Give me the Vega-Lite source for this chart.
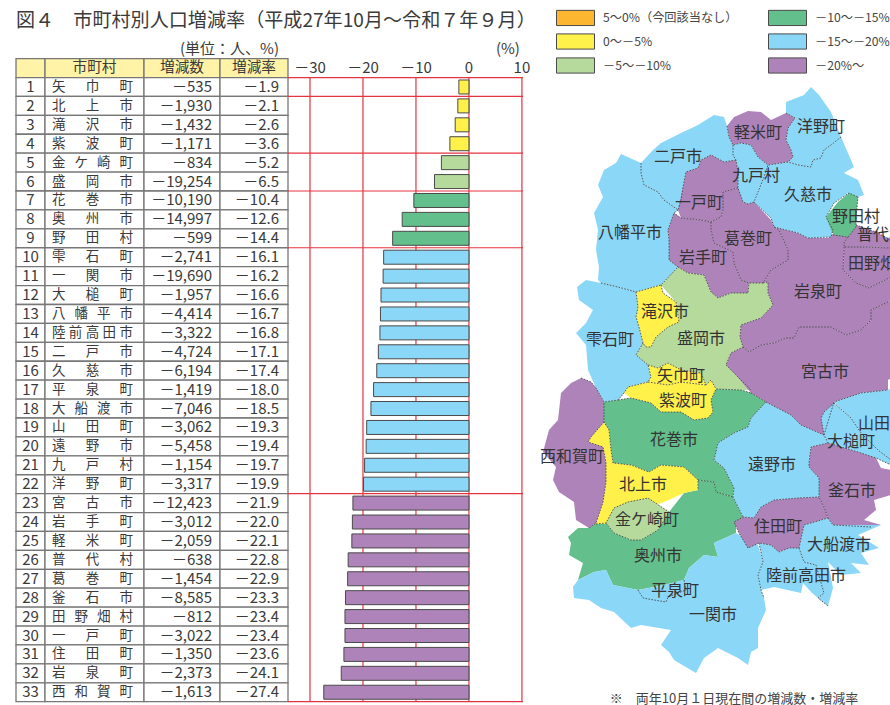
{"$schema":"https://vega.github.io/schema/vega-lite/v6.json","background":"white","padding":{"left":15,"top":0,"right":0,"bottom":0},"spacing":0,"bounds":"flush","config":{"view":{"stroke":null},"font":"Noto Sans CJK JP","text":{"font":"Noto Sans CJK JP","color":"#3a3a3a"},"locale":{"number":{"decimal":".","thousands":",","grouping":[3],"currency":["",""],"minus":"－"}}},
"datasets":{"rows":[
{"r":1,"name":"矢\u2003\u2002巾\u2003\u2002町","n":-535,"rate":-1.9,"c":"0～－5%"},
{"r":2,"name":"北\u2003\u2002上\u2003\u2002市","n":-1930,"rate":-2.1,"c":"0～－5%"},
{"r":3,"name":"滝\u2003\u2002沢\u2003\u2002市","n":-1432,"rate":-2.6,"c":"0～－5%"},
{"r":4,"name":"紫\u2003\u2002波\u2003\u2002町","n":-1171,"rate":-3.6,"c":"0～－5%"},
{"r":5,"name":"金\u2002\u2006ケ\u2002\u2006崎\u2002\u2006町","n":-834,"rate":-5.2,"c":"－5～－10%"},
{"r":6,"name":"盛\u2003\u2002岡\u2003\u2002市","n":-19254,"rate":-6.5,"c":"－5～－10%"},
{"r":7,"name":"花\u2003\u2002巻\u2003\u2002市","n":-10190,"rate":-10.4,"c":"－10～－15%"},
{"r":8,"name":"奥\u2003\u2002州\u2003\u2002市","n":-14997,"rate":-12.6,"c":"－10～－15%"},
{"r":9,"name":"野\u2003\u2002田\u2003\u2002村","n":-599,"rate":-14.4,"c":"－10～－15%"},
{"r":10,"name":"雫\u2003\u2002石\u2003\u2002町","n":-2741,"rate":-16.1,"c":"－15～－20%"},
{"r":11,"name":"一\u2003\u2002関\u2003\u2002市","n":-19690,"rate":-16.2,"c":"－15～－20%"},
{"r":12,"name":"大\u2003\u2002槌\u2003\u2002町","n":-1957,"rate":-16.6,"c":"－15～－20%"},
{"r":13,"name":"八\u2002\u2006幡\u2002\u2006平\u2002\u2006市","n":-4414,"rate":-16.7,"c":"－15～－20%"},
{"r":14,"name":"陸\u2005前\u2005高\u2005田\u2005市","n":-3322,"rate":-16.8,"c":"－15～－20%"},
{"r":15,"name":"二\u2003\u2002戸\u2003\u2002市","n":-4724,"rate":-17.1,"c":"－15～－20%"},
{"r":16,"name":"久\u2003\u2002慈\u2003\u2002市","n":-6194,"rate":-17.4,"c":"－15～－20%"},
{"r":17,"name":"平\u2003\u2002泉\u2003\u2002町","n":-1419,"rate":-18.0,"c":"－15～－20%"},
{"r":18,"name":"大\u2002\u2006船\u2002\u2006渡\u2002\u2006市","n":-7046,"rate":-18.5,"c":"－15～－20%"},
{"r":19,"name":"山\u2003\u2002田\u2003\u2002町","n":-3062,"rate":-19.3,"c":"－15～－20%"},
{"r":20,"name":"遠\u2003\u2002野\u2003\u2002市","n":-5458,"rate":-19.4,"c":"－15～－20%"},
{"r":21,"name":"九\u2003\u2002戸\u2003\u2002村","n":-1154,"rate":-19.7,"c":"－15～－20%"},
{"r":22,"name":"洋\u2003\u2002野\u2003\u2002町","n":-3317,"rate":-19.9,"c":"－15～－20%"},
{"r":23,"name":"宮\u2003\u2002古\u2003\u2002市","n":-12423,"rate":-21.9,"c":"－20%～"},
{"r":24,"name":"岩\u2003\u2002手\u2003\u2002町","n":-3012,"rate":-22.0,"c":"－20%～"},
{"r":25,"name":"軽\u2003\u2002米\u2003\u2002町","n":-2059,"rate":-22.1,"c":"－20%～"},
{"r":26,"name":"普\u2003\u2002代\u2003\u2002村","n":-638,"rate":-22.8,"c":"－20%～"},
{"r":27,"name":"葛\u2003\u2002巻\u2003\u2002町","n":-1454,"rate":-22.9,"c":"－20%～"},
{"r":28,"name":"釜\u2003\u2002石\u2003\u2002市","n":-8585,"rate":-23.3,"c":"－20%～"},
{"r":29,"name":"田\u2002\u2006野\u2002\u2006畑\u2002\u2006村","n":-812,"rate":-23.4,"c":"－20%～"},
{"r":30,"name":"一\u2003\u2002戸\u2003\u2002町","n":-3022,"rate":-23.4,"c":"－20%～"},
{"r":31,"name":"住\u2003\u2002田\u2003\u2002町","n":-1350,"rate":-23.6,"c":"－20%～"},
{"r":32,"name":"岩\u2003\u2002泉\u2003\u2002町","n":-2373,"rate":-24.1,"c":"－20%～"},
{"r":33,"name":"西\u2002\u2006和\u2002\u2006賀\u2002\u2006町","n":-1613,"rate":-27.4,"c":"－20%～"}],
"head":[{"r":"header"}],"unit":[{"r":"unit"}],
"ticks":[{"v":-30,"t":"－30"},{"v":-20,"t":"－20"},{"v":-10,"t":"－10"},{"v":0,"t":"0"},{"v":10,"t":"10"}],
"lines":[{"r":"header"},{"r":1},{"r":4},{"r":6},{"r":9},{"r":22},{"r":33}]},
"hconcat":[
{"width":29,"height":705,"layer":[
{"data":{"name":"head"},"mark":{"type":"rect","fill":"#FFF3A8","stroke":"#777","strokeWidth":1.3},"encoding":{"y":{"field":"r","type":"ordinal","axis":null,"scale":{"domain":["unit","header",1,2,3,4,5,6,7,8,9,10,11,12,13,14,15,16,17,18,19,20,21,22,23,24,25,26,27,28,29,30,31,32,33],"range":[39.7,701.7],"paddingInner":0,"paddingOuter":0}}}},
{"data":{"name":"rows"},"mark":{"type":"rect","fill":"white","stroke":"#777","strokeWidth":1.3},"encoding":{"y":{"field":"r","type":"ordinal","axis":null}}},
{"data":{"name":"rows"},"mark":{"type":"text","fontSize":15,"baseline":"middle"},"encoding":{"y":{"field":"r","type":"ordinal","axis":null},"text":{"field":"r","type":"nominal"}}},
{"data":{"name":"head"},"mark":{"type":"text","fontSize":19.1,"align":"left","baseline":"middle","dy":-47,"text":"図４　市町村別人口増減率（平成27年10月～令和７年９月）"},"encoding":{"y":{"field":"r","type":"ordinal","axis":null},"x":{"datum":0,"type":"quantitative","axis":null,"scale":{"domain":[0,1]}}}}
]},
{"width":99,"height":705,"layer":[
{"data":{"name":"head"},"mark":{"type":"rect","fill":"#FFF3A8","stroke":"#777","strokeWidth":1.3},"encoding":{"y":{"field":"r","type":"ordinal","axis":null,"scale":{"domain":["unit","header",1,2,3,4,5,6,7,8,9,10,11,12,13,14,15,16,17,18,19,20,21,22,23,24,25,26,27,28,29,30,31,32,33],"range":[39.7,701.7],"paddingInner":0,"paddingOuter":0}}}},
{"data":{"name":"rows"},"mark":{"type":"rect","fill":"white","stroke":"#777","strokeWidth":1.3},"encoding":{"y":{"field":"r","type":"ordinal","axis":null}}},
{"data":{"name":"head"},"mark":{"type":"text","fontSize":14.7,"baseline":"middle","text":"市町村"},"encoding":{"y":{"field":"r","type":"ordinal","axis":null}}},
{"data":{"name":"rows"},"mark":{"type":"text","fontSize":13.5,"align":"left","baseline":"middle","dx":7},"encoding":{"y":{"field":"r","type":"ordinal","axis":null},"x":{"datum":0,"type":"quantitative","axis":null,"scale":{"domain":[0,1]}},"text":{"field":"name","type":"nominal"}}}
]},
{"width":76,"height":705,"layer":[
{"data":{"name":"head"},"mark":{"type":"rect","fill":"#FFF3A8","stroke":"#777","strokeWidth":1.3},"encoding":{"y":{"field":"r","type":"ordinal","axis":null,"scale":{"domain":["unit","header",1,2,3,4,5,6,7,8,9,10,11,12,13,14,15,16,17,18,19,20,21,22,23,24,25,26,27,28,29,30,31,32,33],"range":[39.7,701.7],"paddingInner":0,"paddingOuter":0}}}},
{"data":{"name":"rows"},"mark":{"type":"rect","fill":"white","stroke":"#777","strokeWidth":1.3},"encoding":{"y":{"field":"r","type":"ordinal","axis":null}}},
{"data":{"name":"head"},"mark":{"type":"text","fontSize":14.7,"baseline":"middle","text":"増減数"},"encoding":{"y":{"field":"r","type":"ordinal","axis":null}}},
{"data":{"name":"rows"},"mark":{"type":"text","fontSize":15,"align":"right","baseline":"middle","dx":-8},"encoding":{"y":{"field":"r","type":"ordinal","axis":null},"x":{"datum":1,"type":"quantitative","axis":null,"scale":{"domain":[0,1]}},"text":{"field":"n","type":"quantitative","format":","}}}
]},
{"width":68,"height":705,"layer":[
{"data":{"name":"head"},"mark":{"type":"rect","fill":"#FFF3A8","stroke":"#777","strokeWidth":1.3},"encoding":{"y":{"field":"r","type":"ordinal","axis":null,"scale":{"domain":["unit","header",1,2,3,4,5,6,7,8,9,10,11,12,13,14,15,16,17,18,19,20,21,22,23,24,25,26,27,28,29,30,31,32,33],"range":[39.7,701.7],"paddingInner":0,"paddingOuter":0}}}},
{"data":{"name":"rows"},"mark":{"type":"rect","fill":"white","stroke":"#777","strokeWidth":1.3},"encoding":{"y":{"field":"r","type":"ordinal","axis":null}}},
{"data":{"name":"head"},"mark":{"type":"text","fontSize":14.7,"baseline":"middle","text":"増減率"},"encoding":{"y":{"field":"r","type":"ordinal","axis":null}}},
{"data":{"name":"rows"},"mark":{"type":"text","fontSize":15,"align":"right","baseline":"middle","dx":-9},"encoding":{"y":{"field":"r","type":"ordinal","axis":null},"x":{"datum":1,"type":"quantitative","axis":null,"scale":{"domain":[0,1]}},"text":{"field":"rate","type":"quantitative","format":".1f"}}},
{"data":{"name":"unit"},"mark":{"type":"text","fontSize":15,"align":"right","baseline":"middle","dx":-9,"text":"(単位：人、%)"},"encoding":{"y":{"field":"r","type":"ordinal","axis":null},"x":{"datum":1,"type":"quantitative","axis":null,"scale":{"domain":[0,1]}}}}
]},
{"width":235,"height":705,"resolve":{"scale":{"y":"independent"}},"layer":[
{"data":{"name":"ticks"},"mark":{"type":"rule","color":"#E5333F","strokeWidth":1.2},"encoding":{"x":{"field":"v","type":"quantitative","axis":null,"scale":{"domain":[-34.15,10.2],"nice":false,"zero":false}},"y":{"datum":0,"type":"quantitative","axis":null,"scale":{"domain":[0,1],"range":[77.5,701.7]}},"y2":{"datum":1}}},
{"layer":[
{"data":{"name":"lines"},"mark":{"type":"rule","color":"#E5333F","strokeWidth":1.2},"encoding":{"y":{"field":"r","type":"ordinal","bandPosition":1,"axis":null,"scale":{"domain":["unit","header",1,2,3,4,5,6,7,8,9,10,11,12,13,14,15,16,17,18,19,20,21,22,23,24,25,26,27,28,29,30,31,32,33],"range":[39.7,701.7],"paddingInner":0,"paddingOuter":0}}}},
{"data":{"name":"rows"},"mark":{"type":"bar","height":{"band":0.74},"stroke":"#4a4a4a","strokeWidth":1},"encoding":{"y":{"field":"r","type":"ordinal","axis":null},"x":{"field":"rate","type":"quantitative"},"color":{"field":"c","type":"nominal"}}},
{"data":{"name":"ticks"},"mark":{"type":"text","fontSize":15,"baseline":"middle"},"encoding":{"y":{"datum":"header","type":"ordinal"},"x":{"field":"v","type":"quantitative"},"text":{"field":"t","type":"nominal"}}},
{"data":{"name":"unit"},"mark":{"type":"text","fontSize":15,"align":"right","baseline":"middle","dx":-2,"text":"(%)"},"encoding":{"y":{"field":"r","type":"ordinal"},"x":{"datum":10,"type":"quantitative"}}}
]}
]},
{"width":368,"height":705,"projection":{"type":"identity","scale":1,"translate":[-522,0]},"layer":[
{"data":{"values":{"type":"FeatureCollection","features":[
{"type":"Feature","properties":{"c":"－15～－20%"},"geometry":{"type":"Polygon","coordinates":[[[785,113],[785,102],[803,95],[810,87],[818,95],[830,112],[840,137],[830,145],[823,150],[820,158],[812,160],[810,167],[797,165],[787,162],[792,157],[790,150],[785,140],[787,128],[794,118],[785,113]]]}},
{"type":"Feature","properties":{"c":"－20%～"},"geometry":{"type":"Polygon","coordinates":[[[726,126],[733,117],[747,111],[760,112],[770,120],[785,113],[794,118],[787,128],[785,140],[790,150],[792,157],[787,162],[767,165],[757,157],[750,145],[740,143],[732,145],[728,137],[726,126]]]}},
{"type":"Feature","properties":{"c":"－15～－20%"},"geometry":{"type":"Polygon","coordinates":[[[732,145],[740,143],[750,145],[757,157],[767,165],[763,177],[757,192],[753,202],[747,204],[742,202],[737,192],[737,173],[735,160],[732,155],[732,145]]]}},
{"type":"Feature","properties":{"c":"－15～－20%"},"geometry":{"type":"Polygon","coordinates":[[[640,163],[652,150],[660,143],[680,133],[697,125],[713,115],[723,117],[726,126],[728,137],[732,145],[732,155],[735,160],[723,162],[710,155],[700,160],[697,168],[685,172],[682,187],[680,200],[677,210],[663,200],[657,192],[643,185],[640,173],[640,163]]]}},
{"type":"Feature","properties":{"c":"－15～－20%"},"geometry":{"type":"Polygon","coordinates":[[[640,163],[620,154],[615,163],[603,170],[597,185],[602,197],[593,213],[597,230],[595,250],[598,267],[597,280],[600,283],[617,287],[635,292],[660,285],[677,267],[668,260],[668,240],[667,230],[673,213],[677,210],[663,200],[657,192],[643,185],[640,173],[640,163]]]}},
{"type":"Feature","properties":{"c":"－20%～"},"geometry":{"type":"Polygon","coordinates":[[[677,210],[682,187],[685,172],[697,168],[700,160],[710,155],[723,162],[735,160],[737,173],[737,188],[722,192],[722,210],[720,217],[710,222],[700,220],[680,218],[677,210]]]}},
{"type":"Feature","properties":{"c":"－20%～"},"geometry":{"type":"Polygon","coordinates":[[[722,192],[737,188],[742,202],[747,204],[753,202],[770,220],[773,227],[778,230],[787,250],[787,260],[770,270],[762,283],[748,283],[740,280],[733,263],[732,252],[713,243],[710,230],[710,222],[720,217],[722,210],[722,192]]]}},
{"type":"Feature","properties":{"c":"－20%～"},"geometry":{"type":"Polygon","coordinates":[[[667,230],[668,240],[668,260],[677,267],[687,273],[703,275],[710,292],[717,298],[730,293],[747,293],[748,283],[740,280],[733,263],[732,252],[713,243],[710,230],[710,222],[700,220],[680,218],[673,213],[667,230]]]}},
{"type":"Feature","properties":{"c":"－5～－10%"},"geometry":{"type":"Polygon","coordinates":[[[677,267],[687,273],[703,275],[710,292],[717,298],[730,293],[747,293],[748,283],[762,283],[767,282],[767,293],[772,305],[760,318],[740,325],[739,337],[742,347],[730,353],[725,365],[735,375],[750,390],[740,390],[715,389],[710,380],[705,385],[700,373],[680,370],[667,363],[657,368],[647,365],[635,355],[642,343],[650,347],[655,337],[667,327],[678,322],[675,302],[660,285],[677,267]]]}},
{"type":"Feature","properties":{"c":"0～－5%"},"geometry":{"type":"Polygon","coordinates":[[[635,292],[660,285],[662,293],[675,302],[678,322],[667,327],[655,337],[650,347],[645,347],[642,343],[638,327],[635,317],[637,307],[635,292]]]}},
{"type":"Feature","properties":{"c":"－15～－20%"},"geometry":{"type":"Polygon","coordinates":[[[600,283],[585,280],[576,287],[578,300],[592,310],[585,323],[575,333],[585,345],[587,370],[595,388],[603,402],[617,400],[623,393],[627,387],[647,382],[650,377],[647,365],[635,355],[642,343],[638,327],[635,317],[637,307],[635,292],[617,287],[600,283]]]}},
{"type":"Feature","properties":{"c":"0～－5%"},"geometry":{"type":"Polygon","coordinates":[[[647,365],[657,368],[667,363],[680,370],[700,373],[705,385],[680,382],[667,385],[647,382],[650,377],[647,365]]]}},
{"type":"Feature","properties":{"c":"0～－5%"},"geometry":{"type":"Polygon","coordinates":[[[623,393],[627,387],[647,382],[667,385],[680,382],[705,385],[710,380],[715,389],[710,400],[712,412],[707,418],[693,420],[680,412],[660,412],[650,403],[630,398],[623,393]]]}},
{"type":"Feature","properties":{"c":"－10～－15%"},"geometry":{"type":"Polygon","coordinates":[[[603,402],[617,400],[630,398],[650,403],[660,412],[680,412],[693,420],[707,418],[712,412],[710,400],[715,389],[740,390],[750,393],[765,402],[750,418],[747,427],[733,433],[717,443],[713,460],[723,468],[733,488],[732,497],[715,492],[713,482],[697,480],[683,467],[660,465],[648,472],[630,465],[612,463],[610,450],[608,430],[603,422],[603,402]]]}},
{"type":"Feature","properties":{"c":"－10～－15%"},"geometry":{"type":"Polygon","coordinates":[[[567,537],[577,528],[588,528],[595,523],[605,523],[613,533],[630,540],[640,540],[657,530],[668,512],[683,493],[697,490],[697,480],[713,482],[715,492],[732,497],[742,517],[735,523],[735,533],[713,543],[717,557],[703,555],[688,568],[683,580],[663,585],[637,590],[612,585],[605,570],[593,572],[577,580],[582,563],[568,555],[570,543],[567,537]]]}},
{"type":"Feature","properties":{"c":"0～－5%"},"geometry":{"type":"Polygon","coordinates":[[[603,422],[608,430],[610,450],[612,463],[630,465],[648,472],[660,465],[683,467],[697,480],[697,490],[683,493],[668,500],[655,505],[640,500],[617,510],[605,524],[595,524],[602,502],[605,482],[605,463],[602,447],[587,442],[590,437],[603,422]]]}},
{"type":"Feature","properties":{"c":"－5～－10%"},"geometry":{"type":"Polygon","coordinates":[[[605,523],[613,508],[627,502],[647,498],[668,512],[657,530],[640,540],[630,540],[613,533],[605,523]]]}},
{"type":"Feature","properties":{"c":"－20%～"},"geometry":{"type":"Polygon","coordinates":[[[580,378],[590,382],[595,388],[603,402],[603,422],[590,437],[587,442],[602,447],[605,463],[605,482],[602,502],[595,523],[588,528],[575,520],[573,502],[558,492],[552,480],[555,467],[542,452],[548,430],[557,420],[560,393],[570,383],[580,378]]]}},
{"type":"Feature","properties":{"c":"－15～－20%"},"geometry":{"type":"Polygon","coordinates":[[[577,580],[593,572],[605,570],[612,585],[637,590],[663,585],[683,580],[688,568],[703,555],[717,557],[713,543],[735,533],[742,537],[757,545],[762,562],[757,575],[760,590],[763,598],[765,610],[757,628],[757,648],[750,652],[747,665],[737,658],[717,648],[703,658],[695,673],[673,660],[668,652],[660,645],[670,630],[640,625],[630,628],[613,612],[600,608],[588,600],[573,598],[572,587],[577,580]]]}},
{"type":"Feature","properties":{"c":"－15～－20%"},"geometry":{"type":"Polygon","coordinates":[[[765,402],[790,415],[800,425],[823,435],[827,443],[810,447],[808,463],[808,467],[818,478],[818,497],[797,498],[773,500],[760,507],[753,518],[742,517],[732,497],[733,488],[723,468],[713,460],[717,443],[733,433],[747,427],[750,418],[765,402]]]}},
{"type":"Feature","properties":{"c":"－20%～"},"geometry":{"type":"Polygon","coordinates":[[[725,365],[730,353],[742,347],[748,352],[760,345],[773,343],[785,338],[793,338],[798,327],[813,327],[830,327],[845,335],[860,330],[870,320],[870,310],[887,302],[890,300],[890,378],[887,380],[887,390],[860,393],[833,402],[823,435],[800,425],[790,415],[765,402],[750,393],[735,375],[725,365]]]}},
{"type":"Feature","properties":{"c":"－20%～"},"geometry":{"type":"Polygon","coordinates":[[[767,282],[762,283],[770,270],[787,260],[787,250],[778,230],[773,227],[797,233],[807,238],[827,238],[833,233],[847,237],[843,243],[842,270],[855,283],[868,288],[890,277],[890,300],[887,302],[870,310],[870,320],[860,330],[845,335],[830,327],[813,327],[798,327],[793,338],[785,338],[773,343],[760,345],[748,352],[742,347],[739,337],[740,325],[760,318],[772,305],[767,293],[767,282]]]}},
{"type":"Feature","properties":{"c":"－15～－20%"},"geometry":{"type":"Polygon","coordinates":[[[767,165],[787,162],[797,165],[810,167],[812,160],[820,158],[823,150],[830,145],[840,137],[853,167],[843,173],[857,180],[863,195],[857,197],[847,193],[833,203],[825,217],[832,230],[830,237],[807,238],[797,233],[773,227],[770,218],[753,202],[757,192],[763,177],[767,165]]]}},
{"type":"Feature","properties":{"c":"－20%～"},"geometry":{"type":"Polygon","coordinates":[[[855,225],[875,232],[890,240],[890,248],[860,247],[843,247],[843,243],[847,237],[855,225]]]}},
{"type":"Feature","properties":{"c":"－20%～"},"geometry":{"type":"Polygon","coordinates":[[[843,247],[860,247],[890,248],[890,277],[868,288],[855,283],[842,270],[843,247]]]}},
{"type":"Feature","properties":{"c":"－10～－15%"},"geometry":{"type":"Polygon","coordinates":[[[837,202],[848,193],[857,197],[855,217],[855,227],[847,237],[833,235],[830,230],[825,217],[837,202]]]}},
{"type":"Feature","properties":{"c":"－15～－20%"},"geometry":{"type":"Polygon","coordinates":[[[833,402],[860,393],[887,390],[890,388],[890,460],[877,450],[860,433],[850,418],[833,402]]]}},
{"type":"Feature","properties":{"c":"－15～－20%"},"geometry":{"type":"Polygon","coordinates":[[[833,403],[823,412],[820,418],[823,435],[827,443],[857,452],[875,458],[890,465],[890,460],[877,450],[860,433],[850,418],[833,403]]]}},
{"type":"Feature","properties":{"c":"－20%～"},"geometry":{"type":"Polygon","coordinates":[[[810,447],[827,443],[857,452],[875,458],[880,468],[890,470],[890,495],[873,500],[875,510],[863,520],[880,525],[870,527],[832,525],[827,518],[823,507],[818,497],[818,478],[808,467],[808,463],[810,447]]]}},
{"type":"Feature","properties":{"c":"－15～－20%"},"geometry":{"type":"Polygon","coordinates":[[[827,518],[832,525],[880,525],[857,535],[878,548],[860,553],[868,565],[850,563],[860,573],[840,575],[827,562],[832,588],[827,606],[817,598],[823,593],[815,565],[803,562],[798,548],[803,525],[827,518]]]}},
{"type":"Feature","properties":{"c":"－15～－20%"},"geometry":{"type":"Polygon","coordinates":[[[758,543],[762,562],[757,575],[760,590],[773,587],[800,593],[802,583],[810,592],[817,598],[823,593],[815,565],[803,562],[798,548],[788,548],[778,552],[770,545],[758,543]]]}},
{"type":"Feature","properties":{"c":"－20%～"},"geometry":{"type":"Polygon","coordinates":[[[818,497],[823,507],[827,518],[803,525],[798,548],[788,548],[778,552],[770,545],[758,543],[747,548],[738,533],[733,522],[742,517],[753,518],[760,507],[773,500],[797,498],[818,497]]]}}
]},"format":{"type":"json","property":"features"}},
"mark":{"type":"geoshape","stroke":null,"clip":true},
"encoding":{"color":{"field":"properties.c","type":"nominal","scale":{"domain":["5～0%（今回該当なし）","0～－5%","－5～－10%","－10～－15%","－15～－20%","－20%～"],"range":["#FDB62F","#FFF14A","#B5DA9B","#63BF8B","#8BD7F8","#AE83B9"]},"legend":{"title":null,"orient":"none","legendX":540,"legendY":7,"columns":2,"columnPadding":28,"rowPadding":3,"symbolType":"M-1,-0.76H2.8V0.76H-1Z","symbolSize":400,"symbolOpacity":1,"symbolStrokeColor":"#555","symbolStrokeWidth":1,"labelFont":"Noto Sans CJK JP","labelFontSize":12.2,"labelColor":"#444","labelOffset":26,"labelLimit":200,"symbolLimit":6}}}},
{"data":{"values":{"type":"Feature","properties":{},"geometry":{"type":"MultiLineString","coordinates":[
[[840,137],[830,145],[823,150],[820,158],[812,160],[810,167],[797,165],[787,162]],
[[785,113],[794,118],[787,128],[785,140],[790,150],[792,157],[787,162]],
[[787,162],[767,165],[757,157],[750,145],[740,143],[732,145],[728,137],[726,126]],
[[732,145],[732,155],[735,160],[737,173],[737,188],[742,202],[747,204],[753,202],[757,192],[763,177],[767,165]],
[[735,160],[723,162],[710,155],[700,160],[697,168],[685,172],[682,187],[680,200],[677,210]],
[[640,163],[640,173],[643,185],[657,192],[663,200],[677,210]],
[[677,210],[673,213],[667,230],[668,240],[668,260],[677,267]],
[[737,188],[722,192],[722,210],[720,217],[710,222],[700,220],[680,218],[673,213]],
[[710,222],[710,230],[713,243],[732,252],[733,263],[740,280],[748,283],[762,283],[770,270],[787,260],[787,250],[778,230],[773,227],[770,218],[753,202]],
[[773,227],[797,233],[807,238],[830,237],[832,230],[825,217],[833,203],[848,193],[857,197]],
[[832,235],[847,237],[855,227],[855,217],[857,197]],
[[855,225],[875,232],[890,240]],
[[847,237],[843,243],[843,247],[860,247],[890,248]],
[[843,247],[842,270],[855,283],[868,288],[890,277]],
[[887,302],[870,310],[870,320],[860,330],[845,335],[830,327],[813,327],[798,327],[793,338],[785,338],[773,343],[760,345],[748,352],[742,347]],
[[762,283],[767,282],[767,293],[772,305],[760,318],[740,325],[739,337],[742,347],[730,353],[725,365],[735,375],[750,390]],
[[677,267],[687,273],[703,275],[710,292],[717,298],[730,293],[747,293],[748,283]],
[[600,283],[617,287],[635,292],[660,285],[677,267]],
[[660,285],[662,293],[675,302],[678,322],[667,327],[655,337],[650,347],[645,347],[642,343],[638,327],[635,317],[637,307],[635,292]],
[[642,343],[635,355],[647,365],[650,377],[647,382],[627,387],[623,393],[617,400],[603,402]],
[[647,365],[657,368],[667,363],[680,370],[700,373],[705,385],[710,380],[715,389]],
[[647,382],[667,385],[680,382],[705,385]],
[[617,400],[630,398],[650,403],[660,412],[680,412],[693,420],[707,418],[712,412],[710,400],[715,389],[740,390],[750,393]],
[[750,393],[765,402],[750,418],[747,427],[733,433],[717,443],[713,460],[723,468],[733,488],[732,497],[742,517]],
[[765,402],[790,415],[800,425],[823,435]],
[[823,435],[833,402],[860,393],[887,390]],
[[833,403],[850,418],[860,433],[877,450],[890,460]],
[[833,403],[823,412],[820,418],[823,435],[827,443],[810,447],[808,463],[808,467],[818,478],[818,497],[797,498],[773,500],[760,507],[753,518],[742,517],[733,522],[738,533],[747,548],[758,543],[770,545],[778,552],[788,548],[798,548],[803,525],[827,518],[823,507],[818,497]],
[[827,443],[857,452],[875,458],[890,465]],
[[827,518],[832,525],[870,527]],
[[798,548],[803,562],[815,565],[823,593],[817,598],[827,606]],
[[758,543],[762,562],[757,575],[760,590],[763,598]],
[[580,378],[590,382],[595,388],[603,402],[603,422],[608,430],[610,450],[612,463],[630,465],[648,472],[660,465],[683,467],[697,480],[697,490]],
[[603,422],[590,437],[587,442],[602,447],[605,463],[605,482],[602,502],[595,523],[588,528]],
[[697,480],[713,482],[715,492],[732,497]],
[[637,590],[642,598],[653,600],[665,602],[667,597],[685,590],[683,580]],
[[595,524],[605,523],[613,508],[627,502],[647,498],[668,512],[657,530],[640,540],[630,540],[613,533],[605,523]]
]}}},
"mark":{"type":"geoshape","filled":false,"stroke":"#4a4a4a","strokeWidth":0.9,"strokeDash":[1.6,1.4],"clip":true}},
{"data":{"values":[
{"name":"軽米町","lon":757,"lat":133},{"name":"洋野町","lon":820,"lat":127},{"name":"二戸市","lon":677,"lat":157},{"name":"九戸村","lon":755,"lat":176},{"name":"久慈市","lon":807,"lat":195},{"name":"一戸町","lon":698,"lat":203},{"name":"野田村","lon":855,"lat":217},{"name":"普代村","lon":880,"lat":235},{"name":"八幡平市","lon":629,"lat":233},{"name":"葛巻町","lon":747,"lat":239},{"name":"岩手町","lon":702,"lat":258},{"name":"田野畑村","lon":879,"lat":264},{"name":"岩泉町","lon":817,"lat":292},{"name":"滝沢市","lon":664,"lat":312},{"name":"盛岡市","lon":700,"lat":339},{"name":"雫石町","lon":609,"lat":340},{"name":"矢巾町","lon":680,"lat":376},{"name":"宮古市","lon":824,"lat":372},{"name":"紫波町","lon":682,"lat":401},{"name":"花巻市","lon":673,"lat":440},{"name":"山田町","lon":881,"lat":424},{"name":"大槌町","lon":850,"lat":442},{"name":"西和賀町","lon":571,"lat":457},{"name":"遠野市","lon":771,"lat":465},{"name":"北上市","lon":642,"lat":485},{"name":"釜石市","lon":851,"lat":491},{"name":"金ケ崎町","lon":646,"lat":520},{"name":"住田町","lon":777,"lat":527},{"name":"大船渡市","lon":838,"lat":545},{"name":"奥州市","lon":657,"lat":556},{"name":"陸前高田市","lon":805,"lat":576},{"name":"平泉町","lon":674,"lat":591},{"name":"一関市","lon":712,"lat":615}]},
"mark":{"type":"text","fontSize":16,"baseline":"middle","clip":true,"color":"#333"},
"encoding":{"longitude":{"field":"lon","type":"quantitative"},"latitude":{"field":"lat","type":"quantitative"},"text":{"field":"name","type":"nominal"}}},
{"data":{"values":[{"note":"※　両年10月１日現在間の増減数・増減率","lon":733,"lat":699}]},
"mark":{"type":"text","fontSize":13,"baseline":"middle","color":"#444"},
"encoding":{"longitude":{"field":"lon","type":"quantitative"},"latitude":{"field":"lat","type":"quantitative"},"text":{"field":"note","type":"nominal"}}}
]}
]}
